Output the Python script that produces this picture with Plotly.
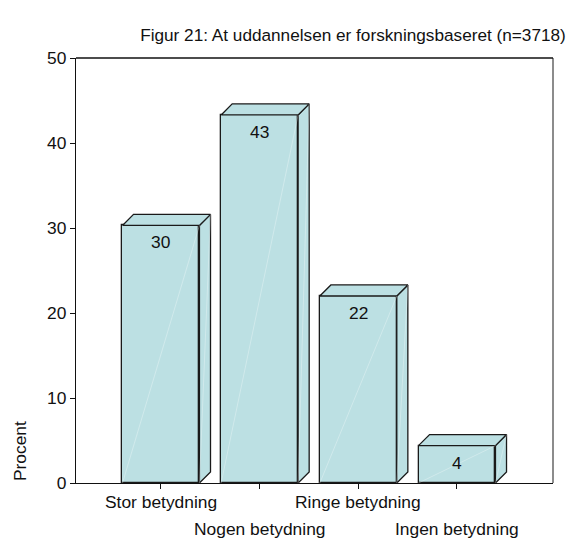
import plotly.graph_objects as go

categories = ["Stor betydning", "Nogen betydning", "Ringe betydning", "Ingen betydning"]
values = [30.3, 43.3, 22.0, 4.4]
value_labels = ["30", "43", "22", "4"]
y_ticks = [0, 10, 20, 30, 40, 50]
title_text = "Figur 21: At uddannelsen er forskningsbaseret (n=3718)"
y_title = "Procent"

FACE = "#BCE0E3"
EDGE = "#1a1a1a"
FONT = dict(family="Liberation Sans, Arial, sans-serif", size=17.4, color="#111")
TFONT = dict(family="Liberation Sans, Arial, sans-serif", size=17.2, color="#111")

W = 0.78   # bar width (category units)
DX = 0.112  # depth in x (category units)
DY = 1.3    # depth in y (value units)

# page body has an 8px margin; shrink the figure to fit the 575x539 window
OFF = 8
FW, FH = 575 - OFF, 539 - OFF

xs = list(range(len(categories)))

fig = go.Figure()
fig.add_trace(go.Bar(x=xs, y=values, width=W, marker=dict(color=FACE, line=dict(color=EDGE, width=1.3)),
                     hoverinfo="skip", showlegend=False))

top_x, top_y, side_x, side_y, diag_x, diag_y = [], [], [], [], [], []
for i, v in zip(xs, values):
    l, r = i - W / 2, i + W / 2
    top_x += [l, l + DX, r + DX, r, l, None]
    top_y += [v, v + DY, v + DY, v, v, None]
    side_x += [r, r, r + DX, r + DX, r, None]
    side_y += [0, v, v + DY, DY, 0, None]
    diag_x += [l, r, None, r, r + DX, None]
    diag_y += [0, v, None, 0, v + DY, None]

fig.add_trace(go.Scatter(x=side_x, y=side_y, mode="lines", fill="toself", fillcolor=FACE,
                         line=dict(color=EDGE, width=1.3), hoverinfo="skip", showlegend=False))
fig.add_trace(go.Scatter(x=top_x, y=top_y, mode="lines", fill="toself", fillcolor=FACE,
                         line=dict(color=EDGE, width=1.3), hoverinfo="skip", showlegend=False))
fig.add_trace(go.Scatter(x=diag_x, y=diag_y, mode="lines", line=dict(color="rgba(255,255,255,0.3)", width=1),
                         hoverinfo="skip", showlegend=False))

annotations = []
for i, v, t in zip(xs, values, value_labels):
    annotations.append(dict(x=i, y=v, xref="x", yref="y", text=t, showarrow=False,
                            yshift=-17, yanchor="middle", font=FONT))
for i, c in zip(xs, categories):
    annotations.append(dict(x=i, y=0, xref="x", yref="paper", text=c, showarrow=False,
                            yanchor="middle", yshift=-19 if i % 2 == 0 else -45.5, font=FONT))
annotations.append(dict(x=-0.1184, y=0.074, xref="paper", yref="paper", text=y_title, textangle=-90,
                        showarrow=False, xanchor="center", yanchor="middle", font=FONT))

fig.update_layout(
    width=FW, height=FH,
    margin=dict(l=76 - OFF, r=22, t=58 - OFF, b=55.5),
    paper_bgcolor="white", plot_bgcolor="white",
    title=dict(text=title_text, x=(353 - OFF) / FW, xref="container", xanchor="center",
               y=(FH - (35 - OFF)) / FH, yref="container", yanchor="middle", font=TFONT),
    annotations=annotations,
    bargap=0,
    shapes=[dict(type="line", xref="paper", yref="paper", x0=1, x1=1, y0=0, y1=1,
                 line=dict(color="#666", width=1.5)),
            dict(type="line", xref="paper", yref="paper", x0=0, x1=1, y0=1, y1=1,
                 line=dict(color="#111", width=1.3))],
)
fig.update_xaxes(range=[-0.861, 3.973], tickvals=xs, showticklabels=False, ticks="outside", ticklen=5,
                 tickcolor="#111", showline=True, linecolor="#111", linewidth=1.3, showgrid=False,
                 zeroline=False, fixedrange=True)
fig.update_yaxes(range=[0, 50], tickvals=y_ticks, ticks="outside", ticklen=5, tickcolor="#111",
                 showline=True, linecolor="#111", linewidth=1.3, showgrid=False, zeroline=False,
                 tickfont=FONT, fixedrange=True)

fig.write_html("out.html")
